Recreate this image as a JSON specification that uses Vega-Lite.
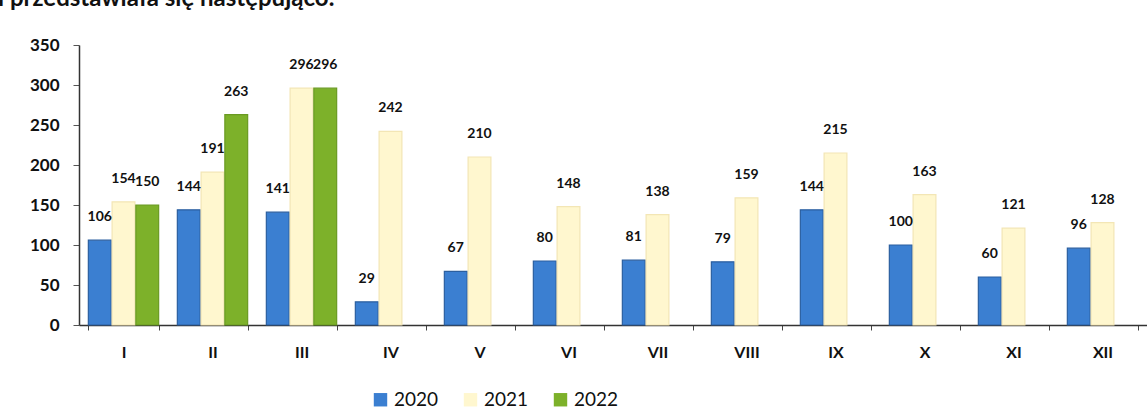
{
  "$schema": "https://vega.github.io/schema/vega-lite/v6.json",
  "autosize": "none",
  "width": 1068,
  "height": 280,
  "padding": {"left": 79, "top": 45, "right": 0, "bottom": 85},
  "background": "white",
  "title": {
    "text": "i przedstawiała się następująco:",
    "anchor": "start",
    "frame": "group",
    "dx": -81,
    "offset": 6,
    "baseline": "alphabetic",
    "font": "Lato",
    "fontSize": 24,
    "fontWeight": "bold",
    "color": "#111111"
  },
  "config": {
    "view": {"stroke": null},
    "font": "Lato"
  },
  "data": {
    "values": [
      {"month": "I", "year": "2020", "value": 106},
      {"month": "I", "year": "2021", "value": 154},
      {"month": "I", "year": "2022", "value": 150},
      {"month": "II", "year": "2020", "value": 144},
      {"month": "II", "year": "2021", "value": 191},
      {"month": "II", "year": "2022", "value": 263},
      {"month": "III", "year": "2020", "value": 141},
      {"month": "III", "year": "2021", "value": 296},
      {"month": "III", "year": "2022", "value": 296},
      {"month": "IV", "year": "2020", "value": 29},
      {"month": "IV", "year": "2021", "value": 242},
      {"month": "V", "year": "2020", "value": 67},
      {"month": "V", "year": "2021", "value": 210},
      {"month": "VI", "year": "2020", "value": 80},
      {"month": "VI", "year": "2021", "value": 148},
      {"month": "VII", "year": "2020", "value": 81},
      {"month": "VII", "year": "2021", "value": 138},
      {"month": "VIII", "year": "2020", "value": 79},
      {"month": "VIII", "year": "2021", "value": 159},
      {"month": "IX", "year": "2020", "value": 144},
      {"month": "IX", "year": "2021", "value": 215},
      {"month": "X", "year": "2020", "value": 100},
      {"month": "X", "year": "2021", "value": 163},
      {"month": "XI", "year": "2020", "value": 60},
      {"month": "XI", "year": "2021", "value": 121},
      {"month": "XII", "year": "2020", "value": 96},
      {"month": "XII", "year": "2021", "value": 128}
    ]
  },
  "encoding": {
    "x": {
      "field": "month",
      "type": "nominal",
      "sort": ["I", "II", "III", "IV", "V", "VI", "VII", "VIII", "IX", "X", "XI", "XII"],
      "scale": {"paddingInner": 0.21, "paddingOuter": 0.105},
      "axis": {
        "title": null,
        "labelAngle": 0,
        "tickBand": "extent",
        "tickSize": 5,
        "tickColor": "#444444",
        "domainColor": "#333333",
        "domainWidth": 1.5,
        "labelFontSize": 16,
        "labelFontWeight": "bold",
        "labelColor": "#111111",
        "labelPadding": 14,
        "labelBaseline": "top"
      }
    },
    "xOffset": {"field": "year", "type": "nominal", "scale": {"domain": ["2020", "2021", "2022"], "paddingInner": 0.04}},
    "y": {
      "field": "value",
      "type": "quantitative",
      "scale": {"domain": [0, 350], "nice": false},
      "axis": {
        "title": null,
        "values": [0, 50, 100, 150, 200, 250, 300, 350],
        "grid": false,
        "tickSize": 6,
        "tickColor": "#555555",
        "domainColor": "#333333",
        "domainWidth": 1.5,
        "labelFontSize": 17,
        "labelFontWeight": "bold",
        "labelColor": "#111111",
        "labelPadding": 14
      }
    }
  },
  "layer": [
    {
      "mark": {"type": "bar", "strokeWidth": 1.2},
      "encoding": {
        "color": {
          "field": "year",
          "type": "nominal",
          "scale": {"domain": ["2020", "2021", "2022"], "range": ["#3b7fd1", "#fff7cf", "#7db12a"]},
          "legend": {
            "title": null,
            "orient": "none",
            "legendX": 292,
            "legendY": 345,
            "direction": "horizontal",
            "symbolType": "square",
            "symbolSize": 180,
            "symbolStrokeWidth": 0,
            "symbolOpacity": 1,
            "labelFontSize": 19,
            "labelFont": "Lato",
            "labelColor": "#111111",
            "labelOffset": 4,
            "columnPadding": 22
          }
        },
        "stroke": {
          "field": "year",
          "type": "nominal",
          "scale": {"domain": ["2020", "2021", "2022"], "range": ["#2b5f9f", "#f3e6b5", "#6a9a22"]},
          "legend": null
        }
      }
    },
    {
      "mark": {"type": "text", "baseline": "alphabetic", "dy": -19, "fontSize": 14, "fontWeight": "bold", "color": "#111111"},
      "encoding": {
        "text": {"field": "value", "type": "quantitative"}
      }
    }
  ]
}
